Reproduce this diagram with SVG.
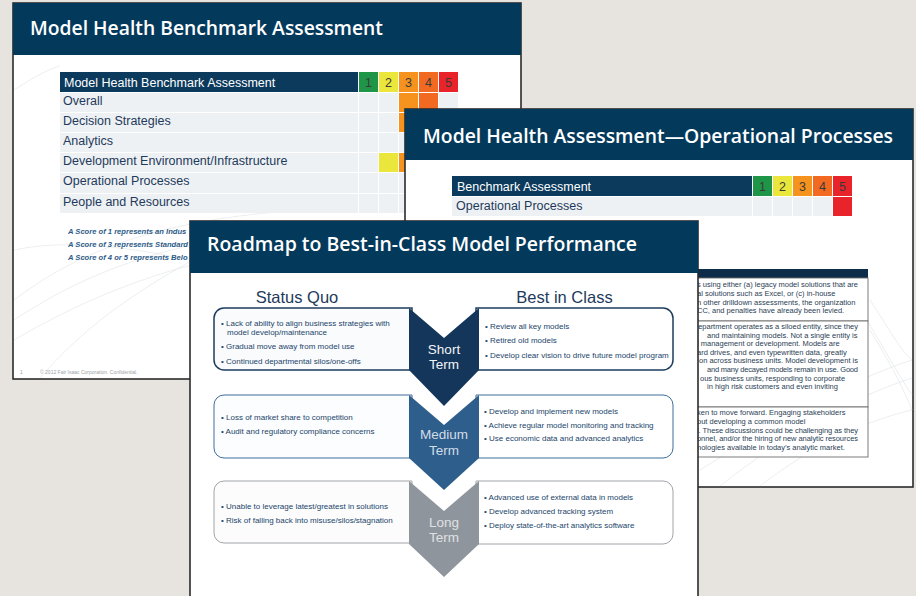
<svg xmlns="http://www.w3.org/2000/svg" width="916" height="596" viewBox="0 0 916 596">
<defs>
<style>
.bg{fill:#e7e3de}
.slide{fill:#fff;stroke:#2b2b2b;stroke-width:1.6}
.hdr{fill:#033a5c}
.ttl{font-family:"Open Sans","Liberation Sans",sans-serif;font-weight:600;font-size:20px;fill:#fff}
.th{fill:#0b3a5c}
.thx{font-family:"Liberation Sans",Arial,sans-serif;font-size:12.5px;fill:#fff}
.num{font-family:"Liberation Sans",Arial,sans-serif;font-size:12.5px;fill:#3a3a3a;text-anchor:middle}
.row{fill:#eef1f3}
.rl{font-family:"Liberation Sans",Arial,sans-serif;font-size:12.5px;fill:#1e3a5c}
.c1{fill:#1f9547}.c2{fill:#ebe63c}.c3{fill:#f6921e}.c4{fill:#f26a22}.c5{fill:#e8232a}
.note{font-family:"Liberation Sans",Arial,sans-serif;font-size:7.6px;font-weight:bold;font-style:italic;fill:#2d5b88}
.foot{font-family:"Liberation Sans",Arial,sans-serif;font-size:5px;fill:#a0a4a8}
.tt{font-family:"Liberation Sans",Arial,sans-serif;font-size:7.5px;fill:#2a3e55}
.tcell{fill:#fff;stroke:#6d6d6d;stroke-width:0.9}
.col{font-family:"Liberation Sans",Arial,sans-serif;font-size:16.5px;fill:#1e3a5c;text-anchor:middle}
.b{font-family:"Liberation Sans",Arial,sans-serif;font-size:8px;fill:#22456b}
.cv{font-family:"Liberation Sans",Arial,sans-serif;font-size:13.5px;text-anchor:middle}
.sw{fill:none;stroke:#e3e6e9;stroke-width:0.7}
</style>
</defs>
<rect class="bg" x="0" y="0" width="916" height="596"/>

<!-- Slide 1 -->
<g id="slide1">
<rect class="slide" x="13" y="3" width="508" height="376"/>
<g class="sw">
<path d="M14 300 C80 250 160 220 300 210"/>
<path d="M14 320 C90 270 170 240 320 225"/>
<path d="M14 340 C100 290 190 255 330 240"/>
<path d="M40 378 C90 320 150 280 250 230"/>
<path d="M14 250 C60 240 120 245 190 260"/>
<path d="M14 90 C30 80 45 70 60 66"/>
</g>
<rect class="hdr" x="13" y="3" width="508" height="52"/>
<text class="ttl" x="30" y="35" textLength="353" lengthAdjust="spacingAndGlyphs">Model Health Benchmark Assessment</text>
<g id="table1">
<rect class="th" x="60" y="72" width="298" height="20"/>
<text class="thx" x="64" y="86.5">Model Health Benchmark Assessment</text>
<rect class="c1" x="359" y="72" width="19" height="20"/>
<rect class="c2" x="379" y="72" width="19" height="20"/>
<rect class="c3" x="399" y="72" width="19" height="20"/>
<rect class="c4" x="419" y="72" width="19" height="20"/>
<rect class="c5" x="439" y="72" width="19" height="20"/>
<text class="num" x="368.5" y="87">1</text>
<text class="num" x="388.5" y="87">2</text>
<text class="num" x="408.5" y="87">3</text>
<text class="num" x="428.5" y="87">4</text>
<text class="num" x="448.5" y="87">5</text>
<g class="row">
<rect x="60" y="93" width="298" height="19"/><rect x="359" y="93" width="19" height="19"/><rect x="379" y="93" width="19" height="19"/><rect x="439" y="93" width="19" height="19"/>
<rect x="60" y="113" width="298" height="19"/><rect x="359" y="113" width="19" height="19"/><rect x="379" y="113" width="19" height="19"/><rect x="419" y="113" width="19" height="19"/><rect x="439" y="113" width="19" height="19"/>
<rect x="60" y="133" width="298" height="19"/><rect x="359" y="133" width="19" height="19"/><rect x="379" y="133" width="19" height="19"/><rect x="399" y="133" width="19" height="19"/><rect x="419" y="133" width="19" height="19"/><rect x="439" y="133" width="19" height="19"/>
<rect x="60" y="153" width="298" height="19"/><rect x="359" y="153" width="19" height="19"/><rect x="419" y="153" width="19" height="19"/><rect x="439" y="153" width="19" height="19"/>
<rect x="60" y="173" width="298" height="20"/><rect x="359" y="173" width="19" height="20"/><rect x="379" y="173" width="19" height="20"/><rect x="399" y="173" width="19" height="20"/><rect x="419" y="173" width="19" height="20"/><rect x="439" y="173" width="19" height="20"/>
<rect x="60" y="194" width="298" height="19"/><rect x="359" y="194" width="19" height="19"/><rect x="379" y="194" width="19" height="19"/><rect x="399" y="194" width="19" height="19"/><rect x="419" y="194" width="19" height="19"/><rect x="439" y="194" width="19" height="19"/>
</g>
<rect class="c3" x="399" y="93" width="19" height="19"/>
<rect class="c4" x="419" y="93" width="19" height="19"/>
<rect class="c3" x="399" y="113" width="19" height="19"/>
<rect class="c2" x="379" y="153" width="19" height="19"/>
<rect class="c3" x="399" y="153" width="19" height="19"/>
<text class="rl" x="63" y="104.5">Overall</text>
<text class="rl" x="63" y="124.5">Decision Strategies</text>
<text class="rl" x="63" y="144.5">Analytics</text>
<text class="rl" x="63" y="164.5">Development Environment/Infrastructure</text>
<text class="rl" x="63" y="185">Operational Processes</text>
<text class="rl" x="63" y="205.5">People and Resources</text>
</g>
<text class="note" x="68" y="234">A Score of 1 represents  an Indus</text>
<text class="note" x="68" y="247">A Score of 3 represents  Standard</text>
<text class="note" x="68" y="260">A Score of 4 or 5 represents  Belo</text>
<text class="foot" x="20" y="374">1</text>
<text class="foot" x="40" y="374">© 2012 Fair Isaac Corporation. Confidential.</text>
</g>

<!-- Slide 2 -->
<g id="slide2">
<rect class="slide" x="405" y="109" width="508" height="378"/>
<g class="sw">
<path d="M700 470 C780 420 850 380 912 360"/>
<path d="M720 486 C790 430 860 395 912 378"/>
<path d="M870 300 C890 330 900 350 912 360"/>
<path d="M860 310 C880 340 895 370 912 395"/>
<path d="M870 330 C885 355 900 380 912 410"/>
<path d="M760 486 C820 440 870 420 912 410"/>
</g>
<rect class="hdr" x="405" y="109" width="508" height="51"/>
<text class="ttl" x="423" y="143" textLength="470" lengthAdjust="spacingAndGlyphs">Model Health Assessment—Operational Processes</text>
<g id="table2">
<rect class="th" x="452" y="176" width="300" height="20"/>
<text class="thx" x="457" y="190.5">Benchmark Assessment</text>
<rect class="c1" x="753" y="176" width="19" height="20"/>
<rect class="c2" x="773" y="176" width="19" height="20"/>
<rect class="c3" x="793" y="176" width="19" height="20"/>
<rect class="c4" x="813" y="176" width="19" height="20"/>
<rect class="c5" x="833" y="176" width="19" height="20"/>
<text class="num" x="762.5" y="191">1</text>
<text class="num" x="782.5" y="191">2</text>
<text class="num" x="802.5" y="191">3</text>
<text class="num" x="822.5" y="191">4</text>
<text class="num" x="842.5" y="191">5</text>
<g class="row">
<rect x="452" y="197" width="300" height="19"/><rect x="753" y="197" width="19" height="19"/><rect x="773" y="197" width="19" height="19"/><rect x="793" y="197" width="19" height="19"/><rect x="813" y="197" width="19" height="19"/>
</g>
<rect class="c5" x="833" y="197" width="19" height="19"/>
<text class="rl" x="456" y="209.5">Operational Processes</text>
</g>
<g id="texttable">
<rect x="640" y="269" width="228" height="9" fill="#0d2c4a"/>
<rect class="tcell" x="640" y="278" width="228" height="43"/>
<rect class="tcell" x="640" y="321" width="228" height="86"/>
<rect class="tcell" x="640" y="407" width="228" height="50"/>
<text class="tt" x="697" y="287" textLength="161" lengthAdjust="spacing">s using either (a) legacy model solutions that are</text>
<text class="tt" x="697" y="296">al solutions such as Excel, or (c) in-house</text>
<text class="tt" x="697" y="304.5">n other drilldown assessments, the organization</text>
<text class="tt" x="697" y="313">CC, and penalties have already been  levied.</text>
<text class="tt" x="694" y="329" textLength="164" lengthAdjust="spacing">department operates as a siloed entity, since they</text>
<text class="tt" x="707" y="337.5">and  maintaining models. Not a single entity is</text>
<text class="tt" x="697" y="346">l management or development. Models are</text>
<text class="tt" x="697" y="354.5">ard drives, and even typewritten data, greatly</text>
<text class="tt" x="699" y="363" textLength="159" lengthAdjust="spacing">on across business units. Model development is</text>
<text class="tt" x="707" y="372" textLength="151" lengthAdjust="spacing">and many decayed models remain in use. Good</text>
<text class="tt" x="700" y="380.5">ous business units, responding to corporate</text>
<text class="tt" x="707" y="389">in high risk customers and even inviting</text>
<text class="tt" x="697" y="415">ken to move forward. Engaging stakeholders</text>
<text class="tt" x="697" y="424">out developing a common model</text>
<text class="tt" x="697" y="432.5" textLength="161" lengthAdjust="spacing">l. These discussions could be challenging as they</text>
<text class="tt" x="697" y="441" textLength="161" lengthAdjust="spacing">onnel, and/or the hiring of new analytic resources</text>
<text class="tt" x="697" y="450">nologies available in today’s analytic market.</text>
</g>
</g>

<!-- Slide 3 -->
<g id="slide3">
<rect class="slide" x="190" y="221" width="508" height="390"/>
<rect class="hdr" x="190" y="221" width="508" height="52"/>
<text class="ttl" x="207" y="251" textLength="430" lengthAdjust="spacingAndGlyphs">Roadmap to Best-in-Class Model Performance</text>
<text class="col" x="297" y="303">Status Quo</text>
<text class="col" x="564.5" y="303">Best in Class</text>

<g id="short-left">
<path d="M412 308 H224 A10 10 0 0 0 214 318 V360 A10 10 0 0 0 224 370 H412 Z" fill="#fafbfc" stroke="#1d3d5e" stroke-width="1.5"/>
<text class="b" x="221" y="326">• Lack of ability to align business strategies with</text>
<text class="b" x="227" y="335">model develop/maintenance</text>
<text class="b" x="221" y="349">• Gradual move away from model use</text>
<text class="b" x="221" y="364">• Continued departmental silos/one-offs</text>
</g>
<g id="short-right">
<path d="M476 308 H663 A10 10 0 0 1 673 318 V360 A10 10 0 0 1 663 370 H476 Z" fill="#fff" stroke="#1d3d5e" stroke-width="1.5"/>
<text class="b" x="485" y="329">• Review all key models</text>
<text class="b" x="485" y="343">• Retired old models</text>
<text class="b" x="485" y="358">• Develop clear vision to drive future model program</text>
</g>
<g id="short-term">
<path d="M409 308 L444 338 L479 308 V370 L444 406 L409 370 Z" fill="#14365a"/>
<text class="cv" x="444" y="354" fill="#f2f4f6">Short</text>
<text class="cv" x="444" y="369" fill="#f2f4f6">Term</text>
</g>

<g id="medium-left">
<path d="M412 395 H224 A10 10 0 0 0 214 405 V448 A10 10 0 0 0 224 458 H412 Z" fill="#fcfdfe" stroke="#3d6e9c" stroke-width="1"/>
<text class="b" x="221" y="420">• Loss of market share to competition</text>
<text class="b" x="221" y="434">• Audit  and regulatory compliance concerns</text>
</g>
<g id="medium-right">
<path d="M476 395 H663 A10 10 0 0 1 673 405 V448 A10 10 0 0 1 663 458 H476 Z" fill="#fff" stroke="#3d6e9c" stroke-width="1"/>
<text class="b" x="484" y="414">• Develop and implement new models</text>
<text class="b" x="484" y="427.5">• Achieve regular model monitoring and tracking</text>
<text class="b" x="484" y="441">• Use economic data and advanced analytics</text>
</g>
<g id="medium-term">
<path d="M409 395 L444 425 L479 395 V458 L444 490 L409 458 Z" fill="#2e5e8b"/>
<text class="cv" x="444" y="439" fill="#d2dce7">Medium</text>
<text class="cv" x="444" y="455" fill="#d2dce7">Term</text>
</g>

<g id="long-left">
<path d="M412 481 H224 A10 10 0 0 0 214 491 V533 A10 10 0 0 0 224 543 H412 Z" fill="#fcfcfc" stroke="#a0a4a9" stroke-width="1"/>
<text class="b" x="221" y="509">• Unable to leverage latest/greatest in solutions</text>
<text class="b" x="221" y="522.5">• Risk of falling back into misuse/silos/stagnation</text>
</g>
<g id="long-right">
<path d="M476 481 H663 A10 10 0 0 1 673 491 V534 A10 10 0 0 1 663 544 H476 Z" fill="#fff" stroke="#a0a4a9" stroke-width="1"/>
<text class="b" x="484" y="500">• Advanced use of external data in models</text>
<text class="b" x="484" y="514">• Develop advanced tracking system</text>
<text class="b" x="484" y="528">• Deploy state-of-the-art analytics software</text>
</g>
<g id="long-term">
<path d="M409 481 L444 511 L479 481 V544 L444 577 L409 544 Z" fill="#8f959c"/>
<text class="cv" x="444" y="527" fill="#dfe1e4">Long</text>
<text class="cv" x="444" y="542" fill="#dfe1e4">Term</text>
</g>
</g>
<g id="connectors"/>
</svg>
